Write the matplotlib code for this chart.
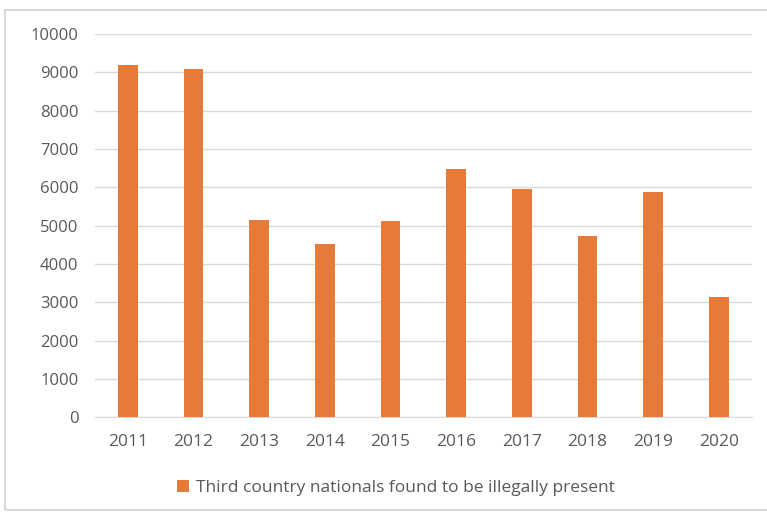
import matplotlib
matplotlib.use("Agg")
import matplotlib.pyplot as plt
from matplotlib.patches import Rectangle

# Data
years = ["2011", "2012", "2013", "2014", "2015", "2016", "2017", "2018", "2019", "2020"]
values = [9200, 9100, 5150, 4510, 5110, 6480, 5970, 4730, 5870, 3130]
series_name = "Third country nationals found to be illegally present"

BAR = "#E67A3A"
TEXT = "#595959"
GRID = "#D9D9D9"

plt.rcParams["font.family"] = ["Open Sans", "DejaVu Sans"]

fig = plt.figure(figsize=(7.67, 5.17), dpi=100)
ax = fig.add_axes([0.124, 0.193, 0.856, 0.741])

x = range(len(years))
ax.bar(x, values, width=0.3, color=BAR, zorder=3, label=series_name)

ax.set_xlim(-0.5, len(years) - 0.5)
ax.set_ylim(0, 10000)
ax.set_yticks(range(0, 10001, 1000))
ax.set_xticks(list(x))
ax.set_xticklabels(years)
ax.grid(axis="y", color=GRID, linewidth=1, zorder=0)
ax.tick_params(length=0, colors=TEXT)
ax.tick_params(axis="x", pad=12, labelsize=12.5)
ax.tick_params(axis="y", pad=12, labelsize=12)
for side in ["top", "right", "left"]:
    ax.spines[side].set_visible(False)
ax.spines["bottom"].set_color(GRID)

ax.legend(loc="center", bbox_to_anchor=(0.458, -0.185), frameon=False,
          fontsize=12.5, labelcolor=TEXT, handlelength=0.7, handleheight=0.7,
          handletextpad=0.4)

# outer chart border
fig.patches.append(Rectangle((5 / 767, 1 - 510 / 517), 1.0, 500 / 517,
                             transform=fig.transFigure, fill=False,
                             edgecolor="#D0D0D0", linewidth=1.2))

fig.savefig("out.png", dpi=100)
